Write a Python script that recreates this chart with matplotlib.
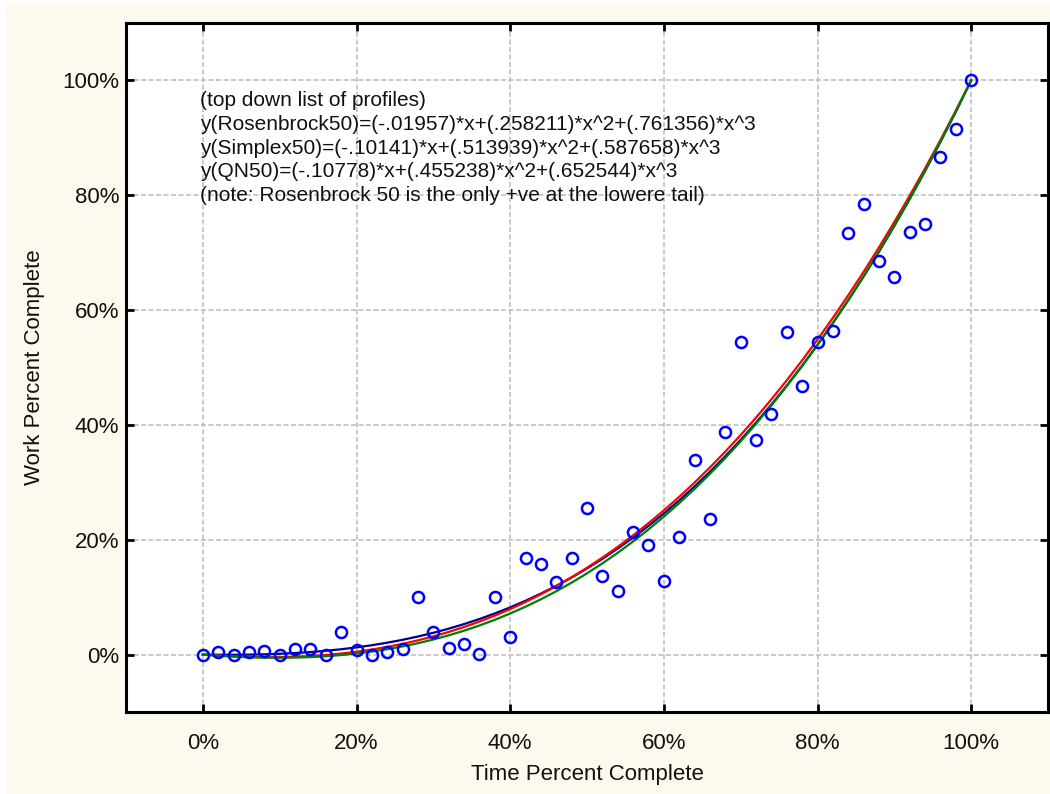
import numpy as np
import matplotlib
matplotlib.use("Agg")
import matplotlib.pyplot as plt
from matplotlib.patches import Rectangle

plt.rcParams["font.family"] = ["Liberation Sans", "DejaVu Sans"]

# observed work completion (percent) at each 2% step of time
time_pct = [0, 2, 4, 6, 8, 10, 12, 14, 16, 18, 20, 22, 24, 26, 28, 30, 32, 34, 36, 38,
            40, 42, 44, 46, 48, 50, 52, 54, 56, 58, 60, 62, 64, 66, 68, 70, 72, 74, 76, 78,
            80, 82, 84, 86, 88, 90, 92, 94, 96, 98, 100]
work_pct = [0.0, 0.4, 0.0, 0.5, 0.6, 0.0, 1.0, 0.9, 0.0, 4.0, 0.8, 0.0, 0.4, 1.0, 10.1, 3.9,
            1.1, 1.9, 0.1, 10.1, 3.1, 16.8, 15.8, 12.7, 16.8, 25.5, 13.6, 11.0, 21.4, 19.0,
            12.9, 20.4, 33.9, 23.7, 38.7, 54.5, 37.3, 41.9, 56.2, 46.8, 54.5, 56.3, 73.4,
            78.5, 68.6, 65.8, 73.6, 75.0, 86.6, 91.5, 100.0]

# fitted cubic profiles (coefficients of x, x^2, x^3 with x in 0..1)
profiles = ["Rosenbrock50", "Simplex50", "QN50"]
coef_rosenbrock = [-.01957, .258211, .761356]
coef_simplex = [-.10141, .513939, .587658]
coef_qn = [-.10778, .455238, .652544]
profile_colors = ["#00008B", "#FF0000", "#008000"]

ticks = [0, 20, 40, 60, 80, 100]
tick_labels = ["0%", "20%", "40%", "60%", "80%", "100%"]

notes = [
    "(top down list of profiles)",
    "y(Rosenbrock50)=(-.01957)*x+(.258211)*x^2+(.761356)*x^3",
    "y(Simplex50)=(-.10141)*x+(.513939)*x^2+(.587658)*x^3",
    "y(QN50)=(-.10778)*x+(.455238)*x^2+(.652544)*x^3",
    "(note: Rosenbrock 50 is the only +ve at the lowere tail)",
]


def profile(coef, xp):
    t = np.asarray(xp, float) / 100.0
    return 100.0 * (coef[0] * t + coef[1] * t ** 2 + coef[2] * t ** 3)


fig = plt.figure(figsize=(10.5, 7.94), dpi=100, facecolor="white")
fig.patches.append(Rectangle((6 / 1050, 0), 1, 1 - 4 / 794, transform=fig.transFigure,
                             facecolor="#FDF9EE", edgecolor="none", zorder=-10))
ax = fig.add_axes([126 / 1050, 82 / 794, 922 / 1050, 689 / 794])
ax.set_facecolor("white")

xs = np.array(time_pct, float)
for coef, color in zip((coef_rosenbrock, coef_simplex, coef_qn), profile_colors):
    ax.plot(xs, profile(coef, xs), color=color, lw=1.6, zorder=3)

ax.plot(time_pct, work_pct, "o", ms=8, mfc="none", mec="#0000FF", mew=1.8, zorder=4)

ax.set_xlim(-10, 110)
ax.set_ylim(-10, 110)
ax.set_xticks(ticks)
ax.set_xticklabels(tick_labels)
ax.set_yticks(ticks)
ax.set_yticklabels(tick_labels)
ax.tick_params(direction="in", length=6, width=2, labelsize=16, top=True, right=True,
               pad=5, labelcolor="#111111")
ax.tick_params(axis="x", pad=15)
ax.grid(True, color="#C0C0C0", ls=(0, (3, 1.5)), lw=1.2)
ax.set_axisbelow(True)
for s in ax.spines.values():
    s.set_linewidth(2.2)

ax.set_xlabel("Time Percent Complete", fontsize=16, labelpad=7, color="#111111")
ax.set_ylabel("Work Percent Complete", fontsize=16, labelpad=12, color="#111111")

for i, line in enumerate(notes):
    ax.text(0.08, 0.887 - i * 0.0344, line, transform=ax.transAxes, fontsize=15,
            va="center", ha="left", color="#111111", zorder=5)

fig.savefig("out.png", dpi=100, facecolor=fig.get_facecolor())
